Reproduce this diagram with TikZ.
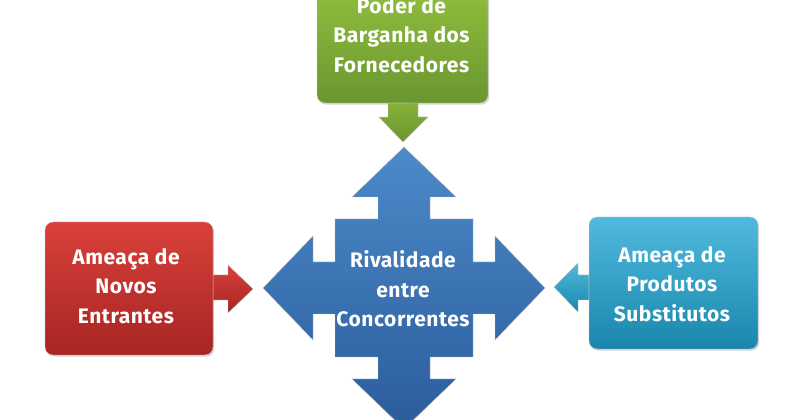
\documentclass[tikz,border=0pt]{standalone}
\usepackage{fontspec}
\setmainfont{Fira Sans}[LetterSpace=2.5]
\usetikzlibrary{shadows}
\definecolor{gTop}{HTML}{97C43F}
\definecolor{gBot}{HTML}{6A9630}
\definecolor{rTop}{HTML}{D9403A}
\definecolor{rBot}{HTML}{A62523}
\definecolor{bTop}{HTML}{4FBADD}
\definecolor{bBot}{HTML}{1A86AD}
\definecolor{cTop}{HTML}{4C8AC9}
\definecolor{cBot}{HTML}{2B5C9C}
\tikzset{
  forcebox/.style={rounded corners=8pt, minimum width=#1, draw=white!80!black, line width=0.4pt,
     drop shadow={shadow xshift=1.2pt, shadow yshift=-1.6pt, opacity=0.35}},
  lbl/.style={text=white, font=\bfseries\fontsize{21}{29.5}\selectfont, align=center},
  blockarrow/.style={draw=white!75!black, line width=0.4pt, line join=miter}
}
\begin{document}
\begin{tikzpicture}[x=1pt,y=1pt]
\useasboundingbox (0,0) rectangle (800,420);
\clip (0,0) rectangle (800,420);
% boxes
\node[forcebox=171pt, minimum height=133pt, top color=gTop, bottom color=gBot] (forn) at (402.5,383.5) {};
\node[forcebox=168pt, minimum height=133pt, top color=rTop, bottom color=rBot] (entr) at (129,131.5) {};
\node[forcebox=169pt, minimum height=132pt, top color=bTop, bottom color=bBot] (subs) at (673.5,137) {};
% central quad arrow
\coordinate (c) at (404,132);
\path[blockarrow, top color=cTop, bottom color=cBot, shift={(c)}]
  (0,141) -- (52,91) -- (26,91) -- (26,69) -- (69,69) -- (69,26) -- (91,26) -- (91,52)
  -- (141,0) -- (91,-52) -- (91,-26) -- (69,-26) -- (69,-69) -- (26,-69) -- (26,-91)
  -- (52,-91) -- (0,-141) -- (-52,-91) -- (-26,-91) -- (-26,-69) -- (-69,-69) -- (-69,-26)
  -- (-91,-26) -- (-91,-52) -- (-141,0) -- (-91,52) -- (-91,26) -- (-69,26) -- (-69,69)
  -- (-26,69) -- (-26,91) -- (-52,91) -- cycle;
% side arrows
\path[blockarrow, top color=gTop!90!black, bottom color=gBot]
  (forn.south) ++(-14.5,0) coordinate (g1) -- ++(0,-14) -- ++(-9,0) -- (403,278) coordinate (gtip)
  -- (428,303) -- (418,303) -- (418,317) -- cycle;
\path[blockarrow, top color=rTop, bottom color=rBot]
  (entr.east |- 0,145) -- (228,145) -- (228,155) -- (253,131) coordinate (rtip) -- (228,107) -- (228,120) -- (entr.east |- 0,120) -- cycle;
\path[blockarrow, top color=bTop, bottom color=bBot]
  (subs.west |- 0,145) -- (578,145) -- (578,157) -- (554,133) coordinate (btip) -- (578,108) -- (578,120) -- (subs.west |- 0,120) -- cycle;
% labels
\node[lbl] (fornl) at (401.5,385) {Poder de\\Barganha dos\\Fornecedores};
\node[lbl] (entrl) at (126,134) {Ameaça de\\Novos\\Entrantes};
\node[lbl] (subsl) at (672,136) {Ameaça de\\Produtos\\Substitutos};
\node[lbl] (rival) at (403,131) {Rivalidade\\entre\\Concorrentes};
\end{tikzpicture}
\end{document}
